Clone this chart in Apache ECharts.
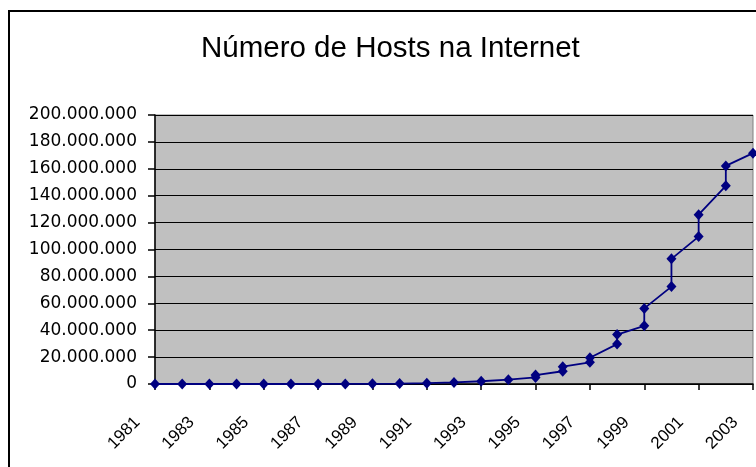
<!DOCTYPE html>
<html>
<head>
<meta charset="utf-8">
<script src="https://cdn.jsdelivr.net/npm/echarts@6/dist/echarts.min.js"></script>
<style>
html,body{margin:0;padding:0;background:#fff;}
#chart{width:756px;height:467px;}
</style>
</head>
<body>
<div id="chart"></div>
<script>
// Data (two readings per year from 1995 to 2002)
const titleText = 'Número de Hosts na Internet';
const years = [1981,1982,1983,1984,1985,1986,1987,1988,1989,1990,1991,1992,1993,1994,
  1995,1995,1996,1996,1997,1997,1998,1998,1999,1999,2000,2000,2001,2001,2002,2002,2003];
const hosts = [213,235,562,1024,1961,5089,28174,56000,159000,313000,617000,1136000,2056000,3212000,
  4852000,6642000,9472000,12881000,16146000,19540000,29670000,36739000,43230000,56218000,
  72398000,93048000,109574000,125888000,147345000,162128000,171638000];
const xMin = 1981, xMax = 2003, xStep = 2;
const yMin = 0, yMax = 200000000, yStep = 20000000;

const points = years.map((y, i) => [y, hosts[i]]);
const fmtDots = v => String(v).replace(/\B(?=(\d{3})+(?!\d))/g, '.');

const chart = echarts.init(document.getElementById('chart'), null, {renderer: 'canvas'});
chart.setOption({
  animation: false,
  backgroundColor: '#ffffff',
  title: {
    text: titleText,
    left: 201,
    top: 34,
    padding: 0,
    textStyle: {fontFamily: 'Liberation Sans, Arial, sans-serif', fontSize: 29.5, fontWeight: 'normal', color: '#000'}
  },
  graphic: [{
    type: 'rect',
    shape: {x: 9, y: 11, width: 760, height: 470},
    style: {fill: 'none', stroke: '#000', lineWidth: 2},
    silent: true,
    z: 0
  }],
  grid: {
    left: 155, right: 3, top: 115, bottom: 83,
    show: true, backgroundColor: '#c0c0c0', borderColor: '#808080', borderWidth: 1
  },
  xAxis: {
    type: 'value', min: xMin, max: xMax, interval: xStep,
    axisLine: {show: true, onZero: false, lineStyle: {color: '#000', width: 1.5}},
    axisTick: {show: true, length: 6, lineStyle: {color: '#000', width: 1.5}},
    splitLine: {show: false},
    axisLabel: {
      rotate: 45, margin: 18, padding: [0, 25, 0, 0],
      fontFamily: '"Liberation Sans Narrow", "Arial Narrow", sans-serif', fontSize: 17, color: '#000',
      formatter: v => String(v)
    }
  },
  yAxis: {
    type: 'value', min: yMin, max: yMax, interval: yStep,
    axisLine: {show: true, lineStyle: {color: '#000', width: 1.5}},
    axisTick: {show: true, length: 7, lineStyle: {color: '#000', width: 1.5}},
    splitLine: {show: true, lineStyle: {color: '#000', width: 1.2}},
    axisLabel: {
      margin: 18, fontFamily: 'DejaVu Sans, sans-serif', fontSize: 17, color: '#000',
      formatter: v => fmtDots(v)
    }
  },
  series: [{
    type: 'line',
    data: points,
    clip: false,
    symbol: 'diamond',
    symbolSize: [10, 11],
    itemStyle: {color: '#000080'},
    lineStyle: {color: '#000080', width: 1.8},
    z: 5
  }]
});
</script>
</body>
</html>
